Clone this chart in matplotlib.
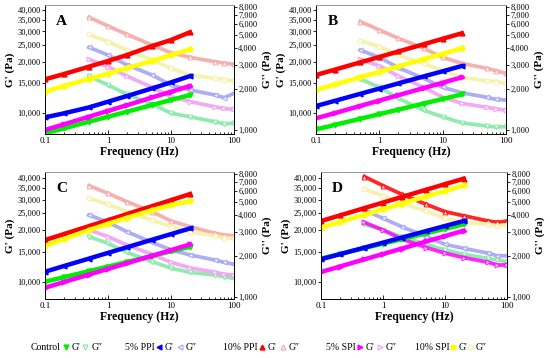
import matplotlib
matplotlib.use("Agg")
import matplotlib.pyplot as plt
from matplotlib.lines import Line2D
from matplotlib.ticker import FixedLocator, FuncFormatter, LogLocator, NullLocator, NullFormatter

plt.rcParams['font.family'] = ['Liberation Serif', 'DejaVu Serif']

# frequency grids (Hz)
freq_gp = [0.1, 0.2, 0.5, 1, 2, 5, 10, 20]
freq_gpp = [0.5, 1, 2, 5, 10, 20, 50, 70, 100]

samples = ["Control", "5% PPI", "10% PPI", "5% SPI", "10% SPI"]
panel_names = ["A", "B", "C", "D"]

# ---- panel A (Pa) ----
A_gp_control = [7610, 8130, 8900, 9520, 10180, 11140, 11920, 12740]
A_gp_ppi5 = [9430, 9960, 10790, 11650, 12570, 13930, 15100, 16440]
A_gp_ppi10 = [15750, 16900, 18670, 20140, 21830, 24640, 26730, 29660]
A_gp_spi5 = [7960, 8590, 9520, 10290, 11110, 12330, 13320, 14380]
A_gp_spi10 = [13330, 14390, 15810, 16990, 18330, 20140, 21830, 23550]
A_gpp_control = [2490, 2140, 1830, 1550, 1330, 1250, 1150, 1110, 1120]
A_gpp_ppi5 = [4050, 3560, 3010, 2540, 2140, 1970, 1810, 1730, 1860]
A_gpp_ppi10 = [6730, 5820, 5050, 4210, 3700, 3420, 3180, 3100, 3040]
A_gpp_spi5 = [3310, 2920, 2490, 2060, 1760, 1620, 1480, 1440, 1420]
A_gpp_spi10 = [5050, 4460, 3870, 3270, 2840, 2540, 2400, 2340, 2300]

# ---- panel B ----
B_gp_control = [8020, 8530, 9260, 9850, 10470, 11360, 12080, 12850]
B_gp_ppi5 = [10990, 11790, 12950, 13890, 14900, 16360, 17540, 18830]
B_gp_ppi10 = [16680, 17950, 19770, 21270, 22900, 25230, 27170, 29240]
B_gp_spi5 = [9310, 10000, 11010, 11830, 12720, 13990, 15040, 16170]
B_gp_spi10 = [13630, 14690, 16190, 17400, 18720, 20620, 22190, 23880]
B_gpp_control = [2370, 2060, 1710, 1400, 1250, 1130, 1070, 1050, 1060]
B_gpp_ppi5 = [3870, 3420, 2870, 2400, 2060, 1880, 1740, 1680, 1660]
B_gpp_ppi10 = [6270, 5440, 4720, 3990, 3420, 3090, 2840, 2730, 2610]
B_gpp_spi5 = [3310, 2960, 2490, 2060, 1740, 1570, 1470, 1430, 1400]
B_gpp_spi10 = [4540, 4100, 3560, 3090, 2730, 2440, 2300, 2270, 2200]

# ---- panel C ----
C_gp_control = [10040, 10670, 11570, 12290, 13060, 14160, 15050, 16000]
C_gp_ppi5 = [11470, 12380, 13670, 14750, 15900, 17570, 18940, 20420]
C_gp_ppi10 = [17500, 18950, 21060, 22810, 24720, 27470, 29760, 32270]
C_gp_spi5 = [9270, 10000, 11050, 11920, 12840, 14190, 15300, 16520]
C_gp_spi10 = [16220, 17740, 19990, 21740, 23540, 26070, 27870, 29380]
C_gpp_control = [2780, 2480, 2130, 1820, 1630, 1520, 1450, 1410, 1370]
C_gpp_ppi5 = [4010, 3540, 3020, 2520, 2220, 2040, 1870, 1800, 1740]
C_gpp_ppi10 = [6590, 5780, 5020, 4240, 3620, 3290, 2940, 2860, 2810]
C_gpp_spi5 = [3110, 2780, 2410, 2060, 1800, 1640, 1520, 1470, 1450]
C_gpp_spi10 = [5310, 4800, 4240, 3680, 3290, 3020, 2820, 2730, 2700]

# ---- panel D ----
D_gp_control = [13670, 14510, 15710, 16670, 17690, 19150, 20320, 21580]
D_gp_ppi5 = [13550, 14480, 15820, 16910, 18070, 19740, 21100, 22540]
D_gp_ppi10 = [22540, 24270, 26770, 28830, 31040, 34220, 36850, 39630]
D_gp_spi5 = [11430, 12290, 13530, 14530, 15610, 17180, 18450, 19820]
D_gp_spi10 = [20640, 22220, 24500, 26380, 28400, 31290, 33670, 36230]
D_gpp_control = [3420, 3110, 2780, 2440, 2220, 2060, 1920, 1870, 1820]
D_gpp_ppi5 = [4360, 3790, 3290, 2780, 2440, 2280, 2100, 2010, 2010]
D_gpp_ppi10 = [7680, 6590, 5690, 4800, 4240, 3960, 3620, 3540, 3620]
D_gpp_spi5 = [3540, 3110, 2670, 2310, 2100, 1950, 1800, 1720, 1720]
D_gpp_spi10 = [6220, 5560, 4890, 4290, 3790, 3540, 3420, 3350, 3380]

gp_ticks = [10000, 15000, 20000, 25000, 30000, 35000, 40000]
gpp_ticks = [1000, 2000, 3000, 4000, 5000, 6000, 7000, 8000]
x_ticks = [0.1, 1, 10, 100]

gp_data = {
    "A": [A_gp_control, A_gp_ppi5, A_gp_ppi10, A_gp_spi5, A_gp_spi10],
    "B": [B_gp_control, B_gp_ppi5, B_gp_ppi10, B_gp_spi5, B_gp_spi10],
    "C": [C_gp_control, C_gp_ppi5, C_gp_ppi10, C_gp_spi5, C_gp_spi10],
    "D": [D_gp_control, D_gp_ppi5, D_gp_ppi10, D_gp_spi5, D_gp_spi10],
}
gpp_data = {
    "A": [A_gpp_control, A_gpp_ppi5, A_gpp_ppi10, A_gpp_spi5, A_gpp_spi10],
    "B": [B_gpp_control, B_gpp_ppi5, B_gpp_ppi10, B_gpp_spi5, B_gpp_spi10],
    "C": [C_gpp_control, C_gpp_ppi5, C_gpp_ppi10, C_gpp_spi5, C_gpp_spi10],
    "D": [D_gpp_control, D_gpp_ppi5, D_gpp_ppi10, D_gpp_spi5, D_gpp_spi10],
}

# 样式
colors = ['#00ee00', '#0000ff', '#ff0000', '#ff00ff', '#ffff00']
light = ['#7fe8a0', '#a0a0f4', '#f4a4a4', '#f09cf0', '#f4f0a0']
markers = ['v', '<', '^', '>', 'o']

# axes boxes in figure pixels: left, top, right, bottom
W, H = 550, 358
boxes = {"A": (45, 5, 234, 134), "B": (316, 5, 506, 134),
         "C": (45, 172, 234, 299), "D": (321, 172, 507, 299)}
gp_lims = {"A": (7540, 42800), "B": (7540, 42800), "C": (7980, 43300), "D": (7980, 43300)}
gpp_lims = {"A": (935, 8300), "B": (935, 8300), "C": (967, 8300), "D": (967, 8300)}

fig = plt.figure(figsize=(W / 100, H / 100), dpi=100)

comma = FuncFormatter(lambda v, p: f"{int(round(v)):,}")
xfmt = FuncFormatter(lambda v, p: f"{v:g}")

for name in panel_names:
    l, t, r, b = boxes[name]
    ax = fig.add_axes([l / W, 1 - b / H, (r - l) / W, (b - t) / H])
    ax2 = ax.twinx()
    ax.set_zorder(ax2.get_zorder() + 1)
    ax.patch.set_visible(False)

    # G'' (空心)
    for i in range(5):
        c = light[i]
        if name == "D" and i in (2, 3):
            c = colors[i]
        ax2.plot(freq_gpp, gpp_data[name][i], color=c, lw=2.7, alpha=0.85,
                 marker=markers[i], ms=3.5, mfc='white', mec=c, mew=0.8)
    # G' (实心)
    for i in range(5):
        ax.plot(freq_gp, gp_data[name][i], color=colors[i], lw=3.2,
                marker=markers[i], ms=3.5, mfc=colors[i], mec=colors[i])

    ax.set_xscale('log')
    ax.set_yscale('log')
    ax2.set_yscale('log')
    ax.set_xlim(0.1, 100)
    ax.set_ylim(*gp_lims[name])
    ax2.set_ylim(*gpp_lims[name])

    ax.xaxis.set_major_locator(FixedLocator(x_ticks))
    ax.xaxis.set_major_formatter(xfmt)
    ax.xaxis.set_minor_locator(LogLocator(base=10, subs=range(2, 10)))
    ax.xaxis.set_minor_formatter(NullFormatter())
    ax.yaxis.set_major_locator(FixedLocator(gp_ticks))
    ax.yaxis.set_major_formatter(comma)
    ax.yaxis.set_minor_locator(NullLocator())
    ax2.yaxis.set_major_locator(FixedLocator(gpp_ticks))
    ax2.yaxis.set_major_formatter(comma)
    ax2.yaxis.set_minor_locator(NullLocator())

    ax.tick_params(axis='x', which='both', direction='in', labelsize=6.5, width=0.6, pad=2)
    ax.tick_params(axis='x', which='major', length=3)
    ax.tick_params(axis='x', which='minor', length=1.8)
    ax.tick_params(axis='y', direction='out', length=2, width=0.6, labelsize=6, pad=1)
    ax2.tick_params(axis='y', direction='out', length=2, width=0.6, labelsize=6, pad=1)

    for a in (ax, ax2):
        for s in a.spines.values():
            s.set_linewidth(0.6)
        a.spines['top'].set_color('#999999')

    ax.set_xlabel("Frequency (Hz)", fontsize=8.5, fontweight='bold', labelpad=1)
    ax.set_ylabel("G' (Pa)", fontsize=8, fontweight='bold', labelpad=2)
    ax2.set_ylabel("G'' (Pa)", fontsize=8, fontweight='bold', labelpad=4)
    ax.text(0.06, 0.87, name, transform=ax.transAxes, fontsize=11,
            fontweight='bold', va='center', ha='left')

# legend row
ly = 1 - 347 / H
groups = [(31, 66, 72, 85, 92), (125, 159, 165, 180, 186), (223, 262, 268, 283, 289),
          (326, 360, 366, 380, 386), (415, 453, 459, 470, 476)]
for i, (tx, m1, t1, m2, t2) in enumerate(groups):
    fig.text(tx / W, ly, samples[i], fontsize=7, va='center', ha='left')
    fig.add_artist(Line2D([m1 / W], [ly], transform=fig.transFigure, marker=markers[i],
                          ms=3.5, color=colors[i], ls='none'))
    fig.text(t1 / W, ly, "G'", fontsize=7, va='center', ha='left')
    fig.add_artist(Line2D([m2 / W], [ly], transform=fig.transFigure, marker=markers[i],
                          ms=3.5, mfc='white', mec=light[i], mew=0.8, ls='none'))
    fig.text(t2 / W, ly, "G\u2033", fontsize=7, va='center', ha='left')

fig.savefig("out.png", dpi=100)
